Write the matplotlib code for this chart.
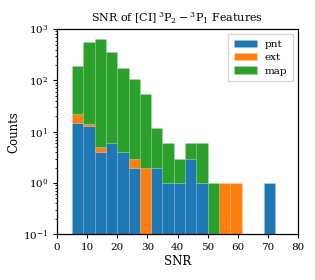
import numpy as np
import matplotlib
matplotlib.use("Agg")
import matplotlib.pyplot as plt

# ---------------------------------------------------------------------------
# Data: counts per SNR bin (stacked: pnt, ext, map)
# ---------------------------------------------------------------------------
bin_edges = np.linspace(5.0, 72.5, 19)
pnt_counts = [15, 13, 4, 6, 4, 2, 0, 2, 1, 1, 3, 1, 0, 0, 0, 0, 0, 1]
ext_counts = [7, 1, 1, 0, 0, 1, 2, 0, 0, 0, 0, 0, 0, 1, 1, 0, 0, 0]
map_counts = [168, 556, 625, 354, 173, 103, 52, 10, 5, 2, 3, 5, 1, 0, 0, 0, 0, 0]
labels = ["pnt", "ext", "map"]
colors = ["#1f77b4", "#ff7f0e", "#2ca02c"]

plt.rcParams["font.family"] = "DejaVu Serif"
plt.rcParams["mathtext.fontset"] = "dejavuserif"

centers = 0.5 * (bin_edges[:-1] + bin_edges[1:])

fig = plt.figure(figsize=(3.15, 2.8), dpi=100)
ax = fig.add_axes([0.181, 0.163, 0.765, 0.733])
ax.hist([centers] * 3, bins=bin_edges,
        weights=[pnt_counts, ext_counts, map_counts],
        stacked=True, histtype="bar", rwidth=1.0,
        color=colors, label=labels,
        edgecolor=(1, 1, 1, 0.12), linewidth=0.5)
ax.set_yscale("log")
ax.set_ylim(0.1, 1000)
ax.set_xlim(0, 80)
ax.set_xticks(np.arange(0, 81, 10))
ax.tick_params(labelsize=7.5, length=3, width=0.8)
ax.tick_params(which="minor", length=1.5, width=0.6)
ax.set_xlabel("SNR", fontsize=8.5, labelpad=2)
ax.set_ylabel("Counts", fontsize=8.5, labelpad=2)
ax.set_title(r"SNR of [CI]$\,^3\mathrm{P}_2-{}^3\mathrm{P}_1$ Features", fontsize=8, pad=5)
ax.legend(fontsize=7.5, loc="upper right", handlelength=2.2, borderpad=0.5,
          labelspacing=0.4, fancybox=False, framealpha=0.8)
for s in ax.spines.values():
    s.set_linewidth(0.9)

fig.savefig("out.png", dpi=100)
